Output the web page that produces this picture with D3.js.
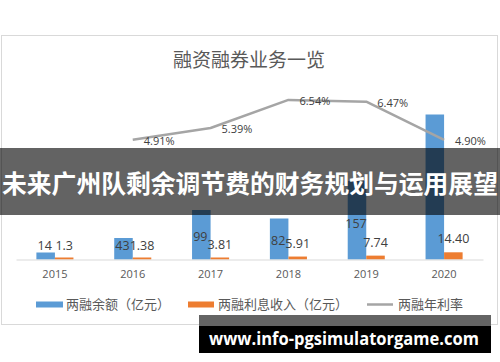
<!DOCTYPE html>
<html>
<head>
<meta charset="utf-8">
<script src="https://cdn.jsdelivr.net/npm/d3@7"></script>
<style>
  html, body { margin: 0; padding: 0; background: #fff; }
  svg { display: block; }
</style>
</head>
<body>
<svg id="chart" width="500" height="362"></svg>
<script>
// values
const years = ["2015", "2016", "2017", "2018", "2019", "2020"];
const balance = [14, 43, 99, 82, 157, 290];          // 两融余额（亿元）
const balanceShown = [true, true, true, true, true, false]; // 2020 label hidden under banner
const income = [1.3, 1.38, 3.81, 5.91, 7.74, 14.40]; // 两融利息收入（亿元）
const incomeLabels = ["1.3", "1.38", "3.81", "5.91", "7.74", "14.40"];
const rateYears = ["2016", "2017", "2018", "2019", "2020"];
const rate = [4.91, 5.39, 6.54, 6.47, 4.90];         // 两融年利率 (%)
const seriesNames = ["两融余额（亿元）", "两融利息收入（亿元）", "两融年利率"];

const title = "融资融券业务一览";
const bannerText = "未来广州队剩余调节费的财务规划与运用展望";
const watermark = "www.info-pgsimulatorgame.com";

const blue = "#5b9bd5", orange = "#ed7d31", gray = "#a5a5a5";
const numFont = "'Open Sans', 'Liberation Sans', sans-serif";
const cjkFont = "'Noto Sans CJK SC', 'Noto Sans', sans-serif";

const svg = d3.select("#chart");
const baseY = 259.5;

// chart frame
svg.append("rect")
  .attr("x", 1.5).attr("y", 35.5).attr("width", 496).attr("height", 289)
  .attr("fill", "#fff").attr("stroke", "#d9d9d9");

svg.append("text")
  .attr("x", 249).attr("y", 58)
  .attr("text-anchor", "middle").attr("dominant-baseline", "central")
  .attr("font-family", cjkFont).attr("font-size", 19)
  .attr("fill", "#595959")
  .text(title);

const x = d3.scaleBand().domain(years).range([16, 483]);
const x1 = d3.scaleBand().domain(["b", "i"]).range([0, x.bandwidth()]).paddingOuter(1.1);
const y = d3.scaleLinear().domain([0, 300]).range([baseY, baseY - 150]);
const y2 = d3.scaleLinear().domain([0, 7]).range([baseY, baseY - 170.8]);
// the blue labels sit lower than the bar tops in the original
const blueLabel = d3.scaleLinear().domain([0, 60, 160]).range([14.5, 14.5, 36.5]);

const bars = svg.append("g");
bars.selectAll("rect.bal")
  .data(years.map((yr, i) => ({ yr, v: balance[i] })))
  .join("rect")
  .attr("class", "bal")
  .attr("x", d => x(d.yr) + x1("b"))
  .attr("y", d => y(d.v))
  .attr("width", x1.bandwidth())
  .attr("height", d => baseY - y(d.v))
  .attr("fill", blue);

bars.selectAll("rect.inc")
  .data(years.map((yr, i) => ({ yr, v: income[i] })))
  .join("rect")
  .attr("class", "inc")
  .attr("x", d => x(d.yr) + x1("i"))
  .attr("y", d => Math.min(y(d.v), baseY - 2))
  .attr("width", x1.bandwidth())
  .attr("height", d => Math.max(baseY - y(d.v), 2))
  .attr("fill", orange);

// axis
const axis = svg.append("g")
  .attr("transform", `translate(0,${baseY})`)
  .call(d3.axisBottom(x).tickSize(0).tickSizeOuter(0).tickPadding(11));
axis.select(".domain").attr("stroke", "#d9d9d9");
axis.selectAll("text")
  .attr("font-family", numFont).attr("font-size", 11).attr("fill", "#595959");

// line
const line = d3.line()
  .x((d, i) => x(rateYears[i]) + x.bandwidth() / 2)
  .y(d => y2(d));
svg.append("path")
  .datum(rate)
  .attr("d", line)
  .attr("fill", "none")
  .attr("stroke", gray).attr("stroke-width", 2.5)
  .attr("stroke-linejoin", "round");

svg.append("g").selectAll("text")
  .data(rate)
  .join("text")
  .attr("x", (d, i) => x(rateYears[i]) + x.bandwidth() / 2 + 11)
  .attr("y", d => y2(d) + 1)
  .attr("dominant-baseline", "central")
  .attr("font-family", numFont).attr("font-size", 11).attr("fill", "#404040")
  .text(d => d.toFixed(2) + "%");

// bar labels
const labels = svg.append("g")
  .attr("font-family", numFont).attr("font-size", 12.5).attr("fill", "#404040")
  .attr("text-anchor", "middle").attr("dominant-baseline", "central");
labels.selectAll("text.bal")
  .data(years.map((yr, i) => ({ yr, v: balance[i], show: balanceShown[i] })).filter(d => d.show))
  .join("text")
  .attr("class", "bal")
  .attr("x", d => x(d.yr) + x1("b") + x1.bandwidth() / 2 - 1)
  .attr("y", d => baseY - blueLabel(d.v))
  .text(d => d.v);
labels.selectAll("text.inc")
  .data(years.map((yr, i) => ({ yr, v: income[i], t: incomeLabels[i] })))
  .join("text")
  .attr("class", "inc")
  .attr("x", d => x(d.yr) + x1("i") + x1.bandwidth() / 2)
  .attr("y", d => y(d.v) - 13.5)
  .text(d => d.t);

// legend
const legend = svg.append("g").attr("font-family", cjkFont).attr("font-size", 13).attr("fill", "#595959");
const legX = [36, 188, 367];
const legY = 304.5;
legend.append("rect").attr("x", legX[0]).attr("y", legY - 3).attr("width", 27).attr("height", 6).attr("fill", blue);
legend.append("rect").attr("x", legX[1]).attr("y", legY - 3).attr("width", 26).attr("height", 6).attr("fill", orange);
legend.append("line").attr("x1", legX[2]).attr("x2", legX[2] + 26).attr("y1", legY).attr("y2", legY)
  .attr("stroke", gray).attr("stroke-width", 2.5);
legend.selectAll("text")
  .data(seriesNames)
  .join("text")
  .attr("x", (d, i) => legX[i] + [30, 30, 31][i])
  .attr("y", legY - 1)
  .attr("dominant-baseline", "central")
  .text(d => d);

// banner over the chart
svg.append("rect")
  .attr("x", 0).attr("y", 148).attr("width", 500).attr("height", 67)
  .attr("fill", "#000").attr("fill-opacity", 0.61);
svg.append("text")
  .attr("x", 250).attr("y", 182)
  .attr("text-anchor", "middle").attr("dominant-baseline", "central")
  .attr("font-family", cjkFont).attr("font-size", 24.8).attr("font-weight", "bold")
  .attr("fill", "#fff")
  .text(bannerText);

// watermark
svg.append("rect").attr("x", 199).attr("y", 315).attr("width", 292).attr("height", 11).attr("fill", "#646464");
svg.append("rect").attr("x", 199).attr("y", 326).attr("width", 292).attr("height", 27).attr("fill", "#000");
svg.append("text")
  .attr("x", 209).attr("y", 338)
  .attr("dominant-baseline", "central")
  .attr("font-family", numFont).attr("font-size", 17).attr("font-weight", "bold")
  .attr("fill", "#fff")
  .attr("textLength", 270).attr("lengthAdjust", "spacingAndGlyphs")
  .text(watermark);
</script>
</body>
</html>
